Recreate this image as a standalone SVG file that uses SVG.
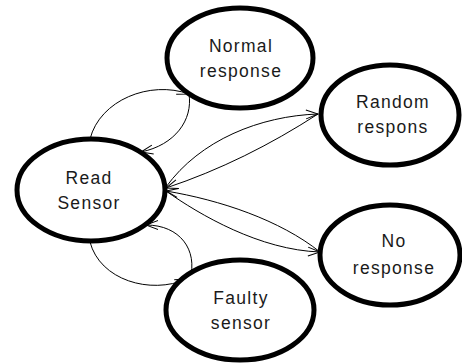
<svg xmlns="http://www.w3.org/2000/svg" width="462" height="364" viewBox="0 0 462 364">
<style>
.node ellipse{fill:#fff;stroke:#000;stroke-width:5}
.node text{font-family:"Liberation Sans",Arial,sans-serif;font-size:17.5px;letter-spacing:1.3px;text-anchor:middle;fill:#1a1a1a}
.edge{fill:none;stroke:#000;stroke-width:1;marker-end:url(#arr)}
</style>
<defs>
<marker id="arr" markerUnits="userSpaceOnUse" markerWidth="14" markerHeight="12" viewBox="-12 -6 14 12" refX="0" refY="0" orient="auto" overflow="visible">
<path d="M-12,-4.5 L0,0 L-12,4.5" fill="none" stroke="#000" stroke-width="1"/>
</marker>
</defs>
<g id="connectors">
<path class="edge" d="M90,139 C100,100 150,80 189,94"/>
<path class="edge" d="M189,94 C193,120 175,145 141,152"/>
<path class="edge" d="M166,187 C200,140 260,116 318,114"/>
<path class="edge" d="M318,114 C270,145 220,170 166,188"/>
<path class="edge" d="M166,191 C200,215 260,250 320,252"/>
<path class="edge" d="M320,252 C280,220 220,200 166,191"/>
<path class="edge" d="M90,242 C100,280 150,295 187,279"/>
<path class="edge" d="M190,279 C198,250 180,225 146,225"/>
</g>
<g id="normal" class="node">
<ellipse cx="240" cy="58" rx="73" ry="50"/>
<text x="241" y="52">Normal</text>
<text x="241" y="77">response</text>
</g>
<g id="random" class="node">
<ellipse cx="390" cy="115" rx="69" ry="50"/>
<text x="393" y="108">Random</text>
<text x="393" y="133">respons</text>
</g>
<g id="read" class="node">
<ellipse cx="91" cy="190" rx="74" ry="51"/>
<text x="89" y="184">Read</text>
<text x="89" y="209">Sensor</text>
</g>
<g id="noresp" class="node">
<ellipse cx="390" cy="255" rx="70" ry="50"/>
<text x="394" y="247">No</text>
<text x="394" y="274">response</text>
</g>
<g id="faulty" class="node">
<ellipse cx="240" cy="310" rx="74" ry="50"/>
<text x="241" y="304">Faulty</text>
<text x="241" y="329">sensor</text>
</g>
</svg>
